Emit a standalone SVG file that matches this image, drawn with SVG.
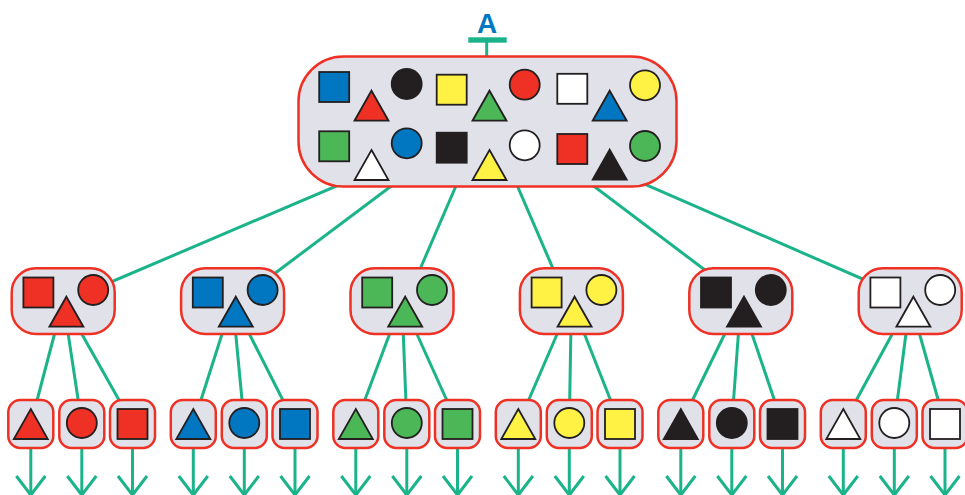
<svg xmlns="http://www.w3.org/2000/svg" xmlns:xlink="http://www.w3.org/1999/xlink" width="965" height="495" viewBox="0 0 965 495">
<style>
.n{fill:#e1e2e9;stroke:#ee3124;stroke-width:2.5}
.c{stroke:#1bb38a;stroke-width:3;fill:none}
.r{fill:#ee3124}.b{fill:#0077c0}.g{fill:#4cb757}.y{fill:#fff244}.k{fill:#231f20}.w{fill:#ffffff}
.lbl{font-family:"Liberation Sans",Arial,sans-serif;font-weight:bold;font-size:28px;fill:#0077c0}
</style>
<defs>
<rect id="sq" x="-15" y="-15" width="30" height="30" stroke="#231f20" stroke-width="1.8"/>
<polygon id="tri" points="0,-15 17,15 -17,15" stroke="#231f20" stroke-width="1.8" stroke-linejoin="miter"/>
<circle id="cir" r="15" stroke="#231f20" stroke-width="1.8"/>
<polyline id="ah" points="-14.5,476 0,495 14.5,476" stroke="#1bb38a" stroke-width="3" fill="none"/>
</defs>

<g id="connectors" class="c">
<line x1="489" y1="121" x2="66.4" y2="301"/>
<line x1="478" y1="121" x2="238" y2="301"/>
<line x1="484" y1="121" x2="406.3" y2="301"/>
<line x1="489.3" y1="121" x2="567" y2="301"/>
<line x1="507.5" y1="121" x2="746" y2="301"/>
<line x1="499.7" y1="121" x2="913.2" y2="301"/>
<line x1="63.2" y1="301" x2="30.8" y2="424"/><line x1="63.2" y1="301" x2="81.8" y2="424"/><line x1="63.2" y1="301" x2="132.5" y2="424"/>
<line x1="232.6" y1="301" x2="193.3" y2="424"/><line x1="232.6" y1="301" x2="244.3" y2="424"/><line x1="232.6" y1="301" x2="295" y2="424"/>
<line x1="402" y1="301" x2="355.8" y2="424"/><line x1="402" y1="301" x2="406.8" y2="424"/><line x1="402" y1="301" x2="457.5" y2="424"/>
<line x1="571.4" y1="301" x2="518.3" y2="424"/><line x1="571.4" y1="301" x2="569.3" y2="424"/><line x1="571.4" y1="301" x2="620" y2="424"/>
<line x1="740.8" y1="301" x2="680.8" y2="424"/><line x1="740.8" y1="301" x2="731.8" y2="424"/><line x1="740.8" y1="301" x2="782.5" y2="424"/>
<line x1="910.2" y1="301" x2="843.3" y2="424"/><line x1="910.2" y1="301" x2="894.3" y2="424"/><line x1="910.2" y1="301" x2="945" y2="424"/>
<g id="arrows">
<line x1="30.8" y1="448" x2="30.8" y2="494"/><use href="#ah" x="30.8"/>
<line x1="81.8" y1="448" x2="81.8" y2="494"/><use href="#ah" x="81.8"/>
<line x1="132.5" y1="448" x2="132.5" y2="494"/><use href="#ah" x="132.5"/>
<line x1="193.3" y1="448" x2="193.3" y2="494"/><use href="#ah" x="193.3"/>
<line x1="244.3" y1="448" x2="244.3" y2="494"/><use href="#ah" x="244.3"/>
<line x1="295" y1="448" x2="295" y2="494"/><use href="#ah" x="295"/>
<line x1="355.8" y1="448" x2="355.8" y2="494"/><use href="#ah" x="355.8"/>
<line x1="406.8" y1="448" x2="406.8" y2="494"/><use href="#ah" x="406.8"/>
<line x1="457.5" y1="448" x2="457.5" y2="494"/><use href="#ah" x="457.5"/>
<line x1="518.3" y1="448" x2="518.3" y2="494"/><use href="#ah" x="518.3"/>
<line x1="569.3" y1="448" x2="569.3" y2="494"/><use href="#ah" x="569.3"/>
<line x1="620" y1="448" x2="620" y2="494"/><use href="#ah" x="620"/>
<line x1="680.8" y1="448" x2="680.8" y2="494"/><use href="#ah" x="680.8"/>
<line x1="731.8" y1="448" x2="731.8" y2="494"/><use href="#ah" x="731.8"/>
<line x1="782.5" y1="448" x2="782.5" y2="494"/><use href="#ah" x="782.5"/>
<line x1="843.3" y1="448" x2="843.3" y2="494"/><use href="#ah" x="843.3"/>
<line x1="894.3" y1="448" x2="894.3" y2="494"/><use href="#ah" x="894.3"/>
<line x1="945" y1="448" x2="945" y2="494"/><use href="#ah" x="945"/>
</g>
</g>

<g id="label-A">
<text class="lbl" x="487.2" y="33.3" text-anchor="middle">A</text>
<rect x="468.3" y="37.3" width="38.4" height="5.4" fill="#1bb38a"/>
<line x1="486.7" y1="42" x2="486.7" y2="56" class="c"/>
</g>

<g id="top">
<rect class="n" x="298.5" y="56.5" width="378" height="130" rx="45"/>
<use href="#sq" class="b" x="334.2" y="87"/>
<use href="#tri" class="r" x="371.5" y="105.7"/>
<use href="#cir" class="k" x="406.7" y="84"/>
<use href="#sq" class="y" x="451.7" y="89.7"/>
<use href="#tri" class="g" x="489.5" y="105.7"/>
<use href="#cir" class="r" x="524.7" y="84.7"/>
<use href="#sq" class="w" x="572.3" y="88.8"/>
<use href="#tri" class="b" x="609.7" y="105.7"/>
<use href="#cir" class="y" x="645" y="85.3"/>
<use href="#sq" class="g" x="334.2" y="146.3"/>
<use href="#tri" class="w" x="371.5" y="165"/>
<use href="#cir" class="b" x="406.7" y="143.3"/>
<use href="#sq" class="k" x="451.7" y="147.7"/>
<use href="#tri" class="y" x="489.5" y="165"/>
<use href="#cir" class="w" x="524.7" y="145.3"/>
<use href="#sq" class="r" x="572.3" y="149"/>
<use href="#tri" class="k" x="609.7" y="164.7"/>
<use href="#cir" class="g" x="645" y="146"/>
</g>

<g id="mid-red" transform="translate(11.7,0)">
<rect class="n" x="0" y="268.3" width="103" height="65.7" rx="24"/>
<use href="#sq" class="r" x="26.7" y="292.5"/><use href="#cir" class="r" x="81.5" y="290"/><use href="#tri" class="r" x="54.7" y="311.7"/>
</g>
<g id="mid-blue" transform="translate(181.1,0)">
<rect class="n" x="0" y="268.3" width="103" height="65.7" rx="24"/>
<use href="#sq" class="b" x="26.7" y="292.5"/><use href="#cir" class="b" x="81.5" y="290"/><use href="#tri" class="b" x="54.7" y="311.7"/>
</g>
<g id="mid-green" transform="translate(350.5,0)">
<rect class="n" x="0" y="268.3" width="103" height="65.7" rx="24"/>
<use href="#sq" class="g" x="26.7" y="292.5"/><use href="#cir" class="g" x="81.5" y="290"/><use href="#tri" class="g" x="54.7" y="311.7"/>
</g>
<g id="mid-yellow" transform="translate(519.9,0)">
<rect class="n" x="0" y="268.3" width="103" height="65.7" rx="24"/>
<use href="#sq" class="y" x="26.7" y="292.5"/><use href="#cir" class="y" x="81.5" y="290"/><use href="#tri" class="y" x="54.7" y="311.7"/>
</g>
<g id="mid-black" transform="translate(689.3,0)">
<rect class="n" x="0" y="268.3" width="103" height="65.7" rx="24"/>
<use href="#sq" class="k" x="26.7" y="292.5"/><use href="#cir" class="k" x="81.5" y="290"/><use href="#tri" class="k" x="54.7" y="311.7"/>
</g>
<g id="mid-white" transform="translate(858.7,0)">
<rect class="n" x="0" y="268.3" width="103" height="65.7" rx="24"/>
<use href="#sq" class="w" x="26.7" y="292.5"/><use href="#cir" class="w" x="81.5" y="290"/><use href="#tri" class="w" x="54.7" y="311.7"/>
</g>

<g id="leaf-red-tri" transform="translate(8.3,0)"><rect class="n" y="400" width="45" height="48" rx="12"/><use href="#tri" class="r" x="22.5" y="424"/></g>
<g id="leaf-red-cir" transform="translate(59.3,0)"><rect class="n" y="400" width="45" height="48" rx="12"/><use href="#cir" class="r" x="22.5" y="423"/></g>
<g id="leaf-red-sq" transform="translate(110,0)"><rect class="n" y="400" width="45" height="48" rx="12"/><use href="#sq" class="r" x="22.5" y="424"/></g>

<g id="leaf-blue-tri" transform="translate(170.8,0)"><rect class="n" y="400" width="45" height="48" rx="12"/><use href="#tri" class="b" x="22.5" y="424"/></g>
<g id="leaf-blue-cir" transform="translate(221.8,0)"><rect class="n" y="400" width="45" height="48" rx="12"/><use href="#cir" class="b" x="22.5" y="423"/></g>
<g id="leaf-blue-sq" transform="translate(272.5,0)"><rect class="n" y="400" width="45" height="48" rx="12"/><use href="#sq" class="b" x="22.5" y="424"/></g>

<g id="leaf-green-tri" transform="translate(333.3,0)"><rect class="n" y="400" width="45" height="48" rx="12"/><use href="#tri" class="g" x="22.5" y="424"/></g>
<g id="leaf-green-cir" transform="translate(384.3,0)"><rect class="n" y="400" width="45" height="48" rx="12"/><use href="#cir" class="g" x="22.5" y="423"/></g>
<g id="leaf-green-sq" transform="translate(435,0)"><rect class="n" y="400" width="45" height="48" rx="12"/><use href="#sq" class="g" x="22.5" y="424"/></g>

<g id="leaf-yellow-tri" transform="translate(495.8,0)"><rect class="n" y="400" width="45" height="48" rx="12"/><use href="#tri" class="y" x="22.5" y="424"/></g>
<g id="leaf-yellow-cir" transform="translate(546.8,0)"><rect class="n" y="400" width="45" height="48" rx="12"/><use href="#cir" class="y" x="22.5" y="423"/></g>
<g id="leaf-yellow-sq" transform="translate(597.5,0)"><rect class="n" y="400" width="45" height="48" rx="12"/><use href="#sq" class="y" x="22.5" y="424"/></g>

<g id="leaf-black-tri" transform="translate(658.3,0)"><rect class="n" y="400" width="45" height="48" rx="12"/><use href="#tri" class="k" x="22.5" y="424"/></g>
<g id="leaf-black-cir" transform="translate(709.3,0)"><rect class="n" y="400" width="45" height="48" rx="12"/><use href="#cir" class="k" x="22.5" y="423"/></g>
<g id="leaf-black-sq" transform="translate(760,0)"><rect class="n" y="400" width="45" height="48" rx="12"/><use href="#sq" class="k" x="22.5" y="424"/></g>

<g id="leaf-white-tri" transform="translate(820.8,0)"><rect class="n" y="400" width="45" height="48" rx="12"/><use href="#tri" class="w" x="22.5" y="424"/></g>
<g id="leaf-white-cir" transform="translate(871.8,0)"><rect class="n" y="400" width="45" height="48" rx="12"/><use href="#cir" class="w" x="22.5" y="423"/></g>
<g id="leaf-white-sq" transform="translate(922.5,0)"><rect class="n" y="400" width="45" height="48" rx="12"/><use href="#sq" class="w" x="22.5" y="424"/></g>
</svg>
